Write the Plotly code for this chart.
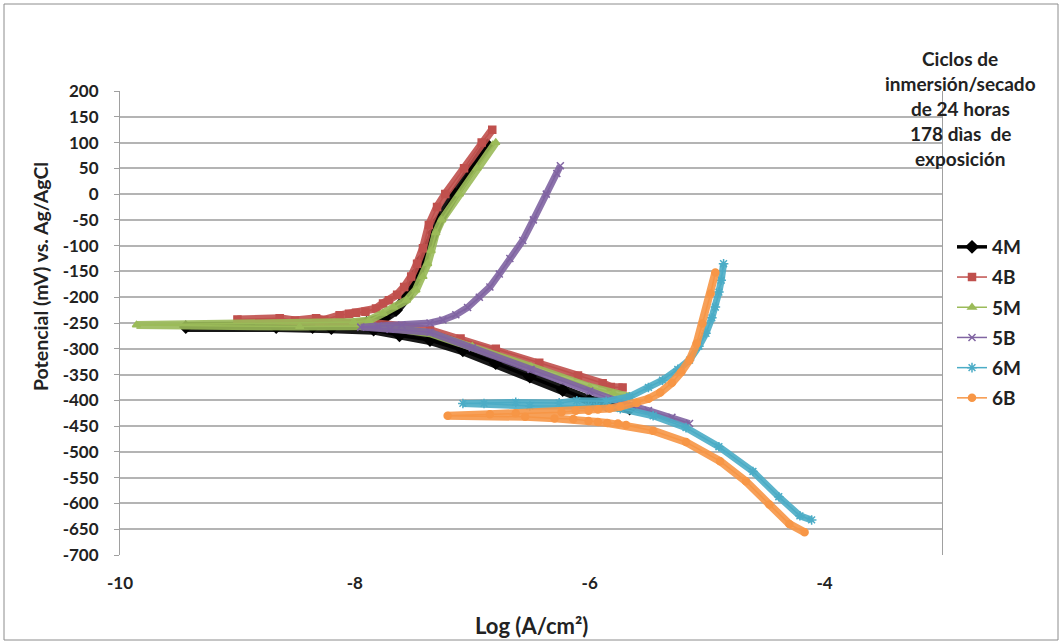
import plotly.graph_objects as go

# ---------------- data ----------------
series_names = ["4M", "4B", "5M", "5B", "6M", "6B"]

x_4M = [-5.66, -5.86, -6.0, -6.23, -6.51, -6.8, -7.08, -7.36, -7.62, -7.84, -8.2, -8.36, -8.67, -9.44,
        -8.2, -7.9, -7.75, -7.65, -7.56, -7.5, -7.46, -7.42, -7.38, -7.33, -7.28, -7.15, -7.0, -6.87]
y_4M = [-416, -409, -400, -380, -354, -328, -303, -283, -274, -263, -260, -258, -258, -258,
        -256, -250, -240, -225, -200, -175, -150, -125, -100, -75, -50, 0, 50, 95]

x_4B = [-5.72, -5.82, -5.89, -6.1, -6.43, -6.8, -7.1, -7.36, -7.6, -7.85, -8.3, -9.0,
        -8.64, -8.51, -8.33, -8.26, -8.13, -8.05, -7.99, -7.91, -7.82, -7.76, -7.71, -7.64, -7.58,
        -7.52, -7.47, -7.42, -7.37, -7.3, -7.23, -7.07, -6.92, -6.83]
y_4B = [-375, -374, -367, -352, -327, -300, -280, -264, -256, -250, -248, -243,
        -241, -245, -241, -244, -235, -232, -230, -228, -222, -212, -206, -195, -180,
        -160, -135, -105, -60, -25, 0, 50, 100, 125]

x_5M = [-5.67, -5.8, -6.0, -6.5, -7.0, -7.36, -7.6, -7.9, -8.47, -9.86,
        -8.01, -7.88, -7.76, -7.67, -7.56, -7.48, -7.42, -7.38, -7.35, -7.31, -7.26, -7.11, -6.96, -6.8]
y_5M = [-393, -386, -374, -335, -295, -270, -262, -256, -257, -254,
        -248, -245, -231, -219, -206, -186, -160, -135, -110, -75, -50, 0, 50, 100]

x_5B = [-5.15, -5.3, -5.5, -5.66, -5.8, -6.0, -6.5, -7.0, -7.36, -7.7, -7.95,
        -7.8, -7.6, -7.36, -7.25, -7.14, -7.04, -6.94, -6.85, -6.77, -6.68, -6.57, -6.48, -6.37,
        -6.28, -6.25]
y_5B = [-445, -433, -420, -410, -399, -382, -340, -298, -268, -262, -258,
        -256, -254, -250, -244, -234, -220, -200, -180, -155, -125, -90, -50, 0,
        40, 55]

x_6M = [-4.11, -4.21, -4.39, -4.61, -4.9, -5.18, -5.46, -5.74, -5.94, -6.01, -6.51, -6.9, -7.08,
        -6.63, -6.26, -6.11, -5.86, -5.66, -5.5, -5.38, -5.25, -5.15, -5.07, -5.01, -4.96, -4.93,
        -4.9, -4.88, -4.86]
y_6M = [-632, -624, -587, -538, -490, -453, -430, -416, -412, -411, -411, -406, -406,
        -404, -405, -401, -402, -393, -375, -361, -340, -322, -295, -270, -240, -219,
        -190, -167, -135]

x_6B = [-4.17, -4.3, -4.47, -4.67, -4.89, -5.18, -5.46, -5.69, -5.76, -5.85, -5.93, -6.01, -6.14,
        -6.3, -6.55, -7.21, -6.85, -6.63, -6.24, -6.12, -6.01, -5.93, -5.83, -5.74, -5.6, -5.5,
        -5.4, -5.3, -5.22, -5.15, -5.09, -5.04, -4.97, -4.93]
y_6B = [-656, -640, -602, -557, -518, -481, -459, -448, -445, -444, -442, -440, -436,
        -435, -432, -430, -427, -425, -423, -420, -420, -418, -416, -412, -405, -397,
        -385, -366, -345, -322, -290, -251, -193, -152]

series_x = [x_4M, x_4B, x_5M, x_5B, x_6M, x_6B]
series_y = [y_4M, y_4B, y_5M, y_5B, y_6M, y_6B]

y_ticks = list(range(-700, 201, 50))
x_ticks = [-10, -8, -6, -4]

note_lines = ["Ciclos de", "inmersión/secado", "de 24 horas", "178 dìas  de", "exposición"]

# ---------------- styles ----------------
colors = ["#000000", "#C0504D", "#9BBB59", "#8064A2", "#4BACC6", "#F79646"]
symbols = ["diamond", "square", "triangle-up", "x-thin-open", "asterisk-open", "circle"]
msizes = [9, 7, 7, 7, 8, 7]
band_w = [10, 8, 8, 7, 7, 8]
leg_w = [3.5, 1.5, 1.5, 1.5, 1.5, 1.5]

FONT = "Lato"

fig = go.Figure()
for i, name in enumerate(series_names):
    fig.add_trace(go.Scatter(
        x=series_x[i], y=series_y[i], mode="lines",
        line=dict(color=colors[i], width=band_w[i]),
        opacity=0.9, showlegend=False, legendgroup=name, hoverinfo="skip"))
    fig.add_trace(go.Scatter(
        x=series_x[i], y=series_y[i], mode="lines+markers", name=name,
        legendgroup=name,
        line=dict(color=colors[i], width=leg_w[i]),
        marker=dict(symbol=symbols[i], size=msizes[i], color=colors[i],
                    line=dict(color=colors[i], width=1.5))))

# plot area: px x 120..942, y 91..555
def px_x(px):
    return (px - 120) / 822.0

def px_y(py):
    return (555 - py) / 464.0

annotations = []
line_y = [58, 83, 108, 133, 158]
for t, py in zip(note_lines, line_y):
    annotations.append(dict(text=t, x=px_x(960), y=px_y(py), xref="paper", yref="paper",
                            showarrow=False, xanchor="center", yanchor="middle",
                            font=dict(family=FONT, size=19, color="#222", weight="bold")))
annotations.append(dict(text="Potencial (mV) vs. Ag/AgCl", x=px_x(40), y=px_y(277),
                        xref="paper", yref="paper", showarrow=False, textangle=-90,
                        xanchor="center", yanchor="middle",
                        font=dict(family=FONT, size=19.5, color="#222", weight="bold")))
annotations.append(dict(text="Log (A/cm²)", x=px_x(531), y=px_y(625),
                        xref="paper", yref="paper", showarrow=False,
                        xanchor="center", yanchor="middle",
                        font=dict(family=FONT, size=22, color="#222", weight="bold")))

shapes = [dict(type="rect", xref="paper", yref="paper",
               x0=px_x(4), x1=px_x(1058), y0=px_y(640), y1=px_y(4),
               line=dict(color="#8c8c8c", width=1), layer="below")]

fig.update_layout(
    width=1062, height=644,
    margin=dict(l=120, r=120, t=91, b=89),
    paper_bgcolor="white", plot_bgcolor="white",
    font=dict(family=FONT, size=16, color="#222"),
    showlegend=True,
    legend=dict(x=px_x(952), y=px_y(228), xanchor="left", yanchor="top",
                font=dict(family=FONT, size=19, color="#222", weight="bold"),
                tracegroupgap=2.5, bgcolor="rgba(0,0,0,0)"),
    annotations=annotations, shapes=shapes,
)
fig.update_xaxes(range=[-10, -3], tickvals=x_ticks, ticktext=[str(v) for v in x_ticks],
                 showgrid=False, zeroline=False, showline=False, ticks="",
                 ticklabelstandoff=16,
                 tickfont=dict(family=FONT, size=17, color="#222", weight="bold"))
fig.update_yaxes(range=[-700, 200], tickvals=y_ticks, ticktext=[str(v) for v in y_ticks],
                 showgrid=True, gridcolor="#B4B4B4", gridwidth=1.5, zeroline=False,
                 showline=True, linecolor="#A0A0A0", linewidth=1, mirror=True,
                 ticks="outside", ticklen=5, tickcolor="#A0A0A0",
                 ticklabelstandoff=12,
                 tickfont=dict(family=FONT, size=17, color="#222", weight="bold"))

fig.write_html("out.html")
